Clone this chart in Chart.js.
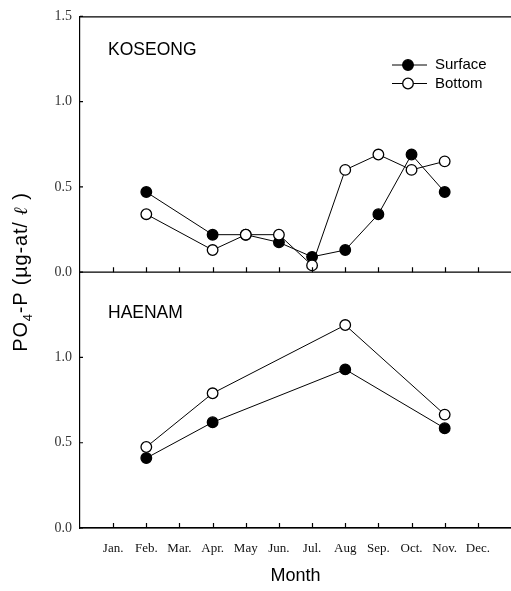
<!DOCTYPE html>
<html>
<head>
<meta charset="utf-8">
<script src="https://cdn.jsdelivr.net/npm/chart.js@4/dist/chart.umd.min.js"></script>
<style>
html,body{margin:0;padding:0;background:#fff;overflow:hidden;}
#wrap{position:relative;width:511px;height:591px;}
</style>
</head>
<body>
<div id="wrap"><canvas id="c" width="511" height="591"></canvas></div>
<script>
const monthLabels = ['Jan.','Feb.','Mar.','Apr.','May','Jun.','Jul.','Aug','Sep.','Oct.','Nov.','Dec.'];
const yTicks = [0.0, 0.5, 1.0, 1.5];

// KOSEONG (upper panel) – month index 1..12
const koseongMonths = [2, 4, 5, 6, 7, 8, 9, 10, 11];
const koseongSurface = [0.47, 0.22, 0.22, 0.175, 0.09, 0.13, 0.34, 0.69, 0.47];
const koseongBottom  = [0.34, 0.13, 0.22, 0.22, 0.04, 0.60, 0.69, 0.60, 0.65];

// HAENAM (lower panel)
const haenamMonths = [2, 4, 8, 11];
const haenamSurface = [0.41, 0.62, 0.93, 0.585];
const haenamBottom  = [0.475, 0.79, 1.19, 0.665];

const seriesNames = ['Surface', 'Bottom'];
const panelNames = ['KOSEONG', 'HAENAM'];

function pts(xs, ys){ return xs.map((x,i)=>({x:x, y:ys[i]})); }

function ds(label, data, filled, axis){
  return {
    label: label, data: data, yAxisID: axis,
    borderColor: '#000', borderWidth: 1,
    backgroundColor: filled ? '#000' : '#fff',
    pointBackgroundColor: filled ? '#000' : '#fff',
    pointBorderColor: '#000', pointBorderWidth: 1.3,
    pointRadius: 5.3, pointHoverRadius: 5.3,
    tension: 0, fill: false
  };
}

const serif = "'Liberation Serif','DejaVu Serif',serif";
const sans = "'Liberation Sans',Arial,sans-serif";

const overlay = {
  id: 'overlay',
  afterDraw(chart){
    const ctx = chart.ctx;
    const xs = chart.scales.x, yt = chart.scales.yTop, yb = chart.scales.yBot;
    const L = chart.chartArea.left, R = chart.chartArea.right;
    ctx.save();
    ctx.strokeStyle = '#000';
    ctx.lineWidth = 1.2;
    // frame lines
    ctx.beginPath();
    ctx.moveTo(L, yt.top + 0.5); ctx.lineTo(R, yt.top + 0.5);
    ctx.moveTo(L, yt.bottom); ctx.lineTo(R, yt.bottom);
    ctx.moveTo(L, yb.bottom); ctx.lineTo(R, yb.bottom);
    ctx.stroke();
    // inward x ticks
    ctx.beginPath();
    for (let m = 1; m <= 12; m++){
      const px = Math.round(xs.getPixelForValue(m)) + 0.5;
      ctx.moveTo(px, yt.bottom); ctx.lineTo(px, yt.bottom - 5);
      ctx.moveTo(px, yb.bottom); ctx.lineTo(px, yb.bottom - 5);
    }
    // inward y ticks
    yTicks.forEach(v => {
      const p1 = yt.getPixelForValue(v), p2 = yb.getPixelForValue(v);
      ctx.moveTo(L, p1); ctx.lineTo(L + 3, p1);
      ctx.moveTo(L, p2); ctx.lineTo(L + 3, p2);
    });
    ctx.stroke();

    // panel labels
    ctx.fillStyle = '#000';
    ctx.font = "17.5px " + sans;
    ctx.textBaseline = 'middle';
    ctx.textAlign = 'left';
    ctx.fillText(panelNames[0], 108, 50);
    ctx.fillText(panelNames[1], 108, 313);

    // legend
    const legendRows = [[seriesNames[0], true], [seriesNames[1], false]];
    legendRows.forEach((r, i) => {
      const cy = 65 + i * 18.5;
      ctx.strokeStyle = '#000';
      ctx.lineWidth = 1;
      ctx.beginPath();
      ctx.moveTo(392, cy); ctx.lineTo(427, cy);
      ctx.stroke();
      ctx.beginPath();
      ctx.arc(408, cy, 5.3, 0, Math.PI * 2);
      ctx.fillStyle = r[1] ? '#000' : '#fff';
      ctx.fill();
      ctx.lineWidth = 1.3;
      ctx.stroke();
      ctx.fillStyle = '#000';
      ctx.font = "15px " + sans;
      ctx.textAlign = 'left';
      ctx.fillText(r[0], 435, cy);
    });

    // y axis title (rotated), with subscript 4
    ctx.translate(21, 272);
    ctx.rotate(-Math.PI / 2);
    try { ctx.letterSpacing = '0.8px'; } catch(e) {}
    const big = "20px " + sans, small = "13px " + sans;
    const parts = [['PO', big, 0], ['4', small, 5], ['-P (µg-at/ ', big, 0], ['ℓ', "bold italic 19px 'DejaVu Serif',serif", 0], [' )', big, 0]];
    let total = 0;
    parts.forEach(p => { ctx.font = p[1]; total += ctx.measureText(p[0]).width; });
    let x = -total / 2;
    ctx.textBaseline = 'alphabetic';
    ctx.textAlign = 'left';
    parts.forEach(p => {
      ctx.font = p[1];
      ctx.fillText(p[0], x, 6 + p[2]);
      x += ctx.measureText(p[0]).width;
    });
    ctx.restore();

    // x axis title
    ctx.save();
    ctx.fillStyle = '#000';
    ctx.font = "18px " + sans;
    ctx.textAlign = 'center';
    ctx.textBaseline = 'middle';
    ctx.fillText('Month', xs.getPixelForValue(6.5), 576);
    ctx.restore();
  }
};

new Chart(document.getElementById('c'), {
  type: 'line',
  data: {
    datasets: [
      ds(seriesNames[1], pts(koseongMonths, koseongBottom), false, 'yTop'),
      ds(seriesNames[0], pts(koseongMonths, koseongSurface), true, 'yTop'),
      ds(seriesNames[1], pts(haenamMonths, haenamBottom), false, 'yBot'),
      ds(seriesNames[0], pts(haenamMonths, haenamSurface), true, 'yBot')
    ]
  },
  options: {
    responsive: false,
    animation: false,
    layout: { autoPadding: false, padding: { top: 16, left: 0, right: 0, bottom: 0 } },
    plugins: { legend: { display: false }, tooltip: { enabled: false } },
    scales: {
      x: {
        type: 'linear', min: 0, max: 13,
        grid: { display: false, drawTicks: false },
        border: { display: true, color: '#000', width: 1.2 },
        afterFit(s){ s.height = 63; s.paddingRight = 0; s.paddingLeft = 0; },
        afterBuildTicks(s){ s.ticks = []; for (let i = 0; i <= 13; i++) s.ticks.push({value: i}); },
        ticks: {
          autoSkip: false, maxRotation: 0, padding: 13,
          color: '#111', font: { family: serif, size: 13 },
          callback: v => (v >= 1 && v <= 12) ? monthLabels[v - 1] : ''
        }
      },
      yBot: {
        type: 'linear', position: 'left', stack: 'panels', stackWeight: 1,
        min: 0, max: 1.5,
        grid: { display: false, drawTicks: false },
        border: { display: true, color: '#000', width: 1.2 },
        afterFit(s){ s.width = 80; },
        afterBuildTicks(s){ s.ticks = yTicks.filter(v => v < 1.5).map(v => ({value: v})); },
        ticks: { padding: 8, color: '#333', font: { family: serif, size: 14 }, callback: v => v.toFixed(1) }
      },
      yTop: {
        type: 'linear', position: 'left', stack: 'panels', stackWeight: 1,
        min: 0, max: 1.5,
        grid: { display: false, drawTicks: false },
        border: { display: true, color: '#000', width: 1.2 },
        afterFit(s){ s.width = 80; },
        afterBuildTicks(s){ s.ticks = yTicks.map(v => ({value: v})); },
        ticks: { padding: 8, color: '#333', font: { family: serif, size: 14 }, callback: v => v.toFixed(1) }
      }
    }
  },
  plugins: [overlay]
});
</script>
</body>
</html>
